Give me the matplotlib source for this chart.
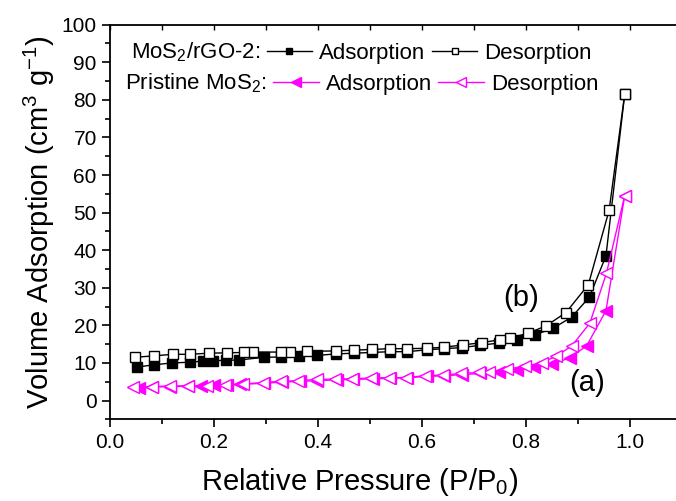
import numpy as np
import matplotlib as mpl
mpl.use('Agg')
import matplotlib.pyplot as plt
from matplotlib.lines import Line2D
from matplotlib.ticker import MultipleLocator, FormatStrFormatter

# --- data ---
# MoS2/rGO-2
rgo_ads_x = [0.052, 0.084, 0.119, 0.154, 0.179, 0.199, 0.223, 0.249, 0.296, 0.329,
             0.363, 0.398, 0.434, 0.469, 0.504, 0.539, 0.572, 0.609, 0.643, 0.678,
             0.712, 0.748, 0.783, 0.818, 0.853, 0.888, 0.922, 0.954, 0.990]
rgo_ads_y = [8.9, 9.5, 10.0, 10.2, 10.5, 10.6, 10.7, 10.8, 11.5, 11.6,
             11.8, 12.0, 12.4, 12.6, 12.8, 13.0, 13.0, 13.5, 13.8, 14.1,
             14.7, 15.3, 16.2, 17.5, 19.3, 22.2, 27.5, 38.5, 81.5]
rgo_des_x = [0.990, 0.960, 0.920, 0.877, 0.839, 0.804, 0.769, 0.751, 0.715, 0.679,
             0.643, 0.609, 0.572, 0.539, 0.504, 0.469, 0.434, 0.379, 0.346, 0.329,
             0.276, 0.258, 0.225, 0.190, 0.154, 0.121, 0.085, 0.048]
rgo_des_y = [81.5, 50.6, 30.8, 23.4, 19.9, 17.9, 16.6, 16.2, 15.4, 14.8,
             14.2, 13.9, 13.8, 13.8, 13.6, 13.4, 13.2, 13.1, 12.9, 12.9,
             12.9, 12.8, 12.7, 12.6, 12.3, 12.3, 11.9, 11.5]

# Pristine MoS2
pr_ads_x = [0.056, 0.081, 0.116, 0.151, 0.176, 0.201, 0.226, 0.251, 0.296, 0.331,
            0.366, 0.398, 0.436, 0.468, 0.506, 0.538, 0.572, 0.609, 0.643, 0.678,
            0.712, 0.748, 0.783, 0.816, 0.851, 0.884, 0.917, 0.954, 0.990]
pr_ads_y = [3.3, 3.6, 3.7, 3.8, 4.0, 4.1, 4.2, 4.3, 4.6, 4.9,
            5.1, 5.3, 5.5, 5.6, 5.8, 5.9, 6.1, 6.4, 6.6, 6.9,
            7.2, 7.5, 8.2, 8.8, 9.8, 11.3, 14.6, 23.9, 54.5]
pr_des_x = [0.990, 0.955, 0.923, 0.888, 0.858, 0.831, 0.799, 0.764, 0.729, 0.710,
            0.675, 0.640, 0.605, 0.570, 0.536, 0.502, 0.466, 0.432, 0.398, 0.362,
            0.328, 0.294, 0.256, 0.222, 0.187, 0.151, 0.116, 0.081, 0.045]
pr_des_y = [54.5, 33.9, 20.6, 14.5, 11.8, 10.1, 9.1, 8.4, 7.7, 7.5,
            7.2, 6.8, 6.6, 6.1, 6.1, 6.0, 5.8, 5.7, 5.6, 5.3,
            5.1, 4.8, 4.4, 4.1, 4.0, 3.9, 3.9, 3.7, 3.7]

clr_pink = '#ff00ff'
cfont = 'Liberation Sans'

plt.rcParams['font.family'] = cfont
plt.rcParams['mathtext.fontset'] = 'custom'
plt.rcParams['mathtext.rm'] = cfont

ms_sq = 6.5 ; ms_tr = 8.5

fig = plt.figure(figsize=(6.76, 5.01), dpi=100, facecolor='w')
ax = fig.add_axes([0.1627, 0.163, 0.846, 0.7877])

# adsorption first, desorption (white filled) on top
ax.plot(rgo_ads_x, rgo_ads_y, color='k', lw=1.0, marker='s', ms=ms_sq,
        mfc='k', mec='k', mew=1.0)
ax.plot(pr_ads_x, pr_ads_y, color=clr_pink, lw=1.0, marker='<', ms=ms_tr,
        mfc=clr_pink, mec=clr_pink, mew=1.0)
ax.plot(rgo_des_x, rgo_des_y, color='k', lw=1.0, marker='s', ms=ms_sq,
        mfc='w', mec='k', mew=1.0)
ax.plot(pr_des_x, pr_des_y, color=clr_pink, lw=1.0, marker='<', ms=ms_tr,
        mfc='w', mec=clr_pink, mew=1.0)

ax.set_xlim(0., 1.1)
ax.set_ylim(-5., 100.)
ax.set_xticks(np.arange(0., 1.01, 0.2))
ax.xaxis.set_minor_locator(MultipleLocator(0.1))
ax.xaxis.set_major_formatter(FormatStrFormatter('%.1f'))
ax.set_yticks(np.arange(0, 101, 10))
ax.yaxis.set_minor_locator(MultipleLocator(5))

ax.tick_params(which='major', direction='out', length=6, width=1.2, labelsize=15)
ax.tick_params(which='minor', direction='out', length=3.5, width=1.2)
for spn in ax.spines.values():
    spn.set_linewidth(1.3)

# small inward ticks on the top spine
sec = ax.secondary_xaxis('top')
sec.set_xticks(np.arange(0., 1.01, 0.1))
sec.tick_params(direction='in', length=3.5, width=1.0, labeltop=False)
sec.spines['top'].set_visible(False)

ax.set_xlabel(r'Relative Pressure (P/P$_\mathrm{0}$)', fontsize=21)
ax.xaxis.set_label_coords(0.437, -0.118)
ax.set_ylabel(r'Volume Adsorption (cm$^\mathrm{3}$ g$^\mathrm{-1}$)', fontsize=21, labelpad=3)

ax.text(0.79, 27.3, '(b)', fontsize=21, ha='center', va='center')
ax.text(0.917, 4.7, '(a)', fontsize=21, ha='center', va='center')

# legend : one row per sample
h_blank = Line2D([], [], color='none')
h_rgo_a = Line2D([], [], color='k', lw=1.0, marker='s', ms=5, mfc='k', mec='k')
h_rgo_d = Line2D([], [], color='k', lw=1.0, marker='s', ms=5, mfc='w', mec='k')
h_pr_a = Line2D([], [], color=clr_pink, lw=1.0, marker='<', ms=7, mfc=clr_pink, mec=clr_pink)
h_pr_d = Line2D([], [], color=clr_pink, lw=1.0, marker='<', ms=7, mfc='w', mec=clr_pink)

leg_kw = dict(ncol=3, loc='center left', frameon=False, fontsize=16,
              handlelength=2.05, handletextpad=0.3, columnspacing=0.3,
              borderpad=0., borderaxespad=0.)
leg1 = ax.legend([h_blank, h_rgo_a, h_rgo_d],
                 [r'MoS$_\mathrm{2}$/rGO-2:', 'Adsorption', 'Desorption'],
                 bbox_to_anchor=(-0.055, 0.930), **leg_kw)
ax.add_artist(leg1)
leg2 = ax.legend([h_blank, h_pr_a, h_pr_d],
                 [r'Pristine MoS$_\mathrm{2}$:', 'Adsorption', 'Desorption'],
                 bbox_to_anchor=(-0.065, 0.851), **leg_kw)

plt.savefig('out.png', dpi=100)
plt.close(fig)
